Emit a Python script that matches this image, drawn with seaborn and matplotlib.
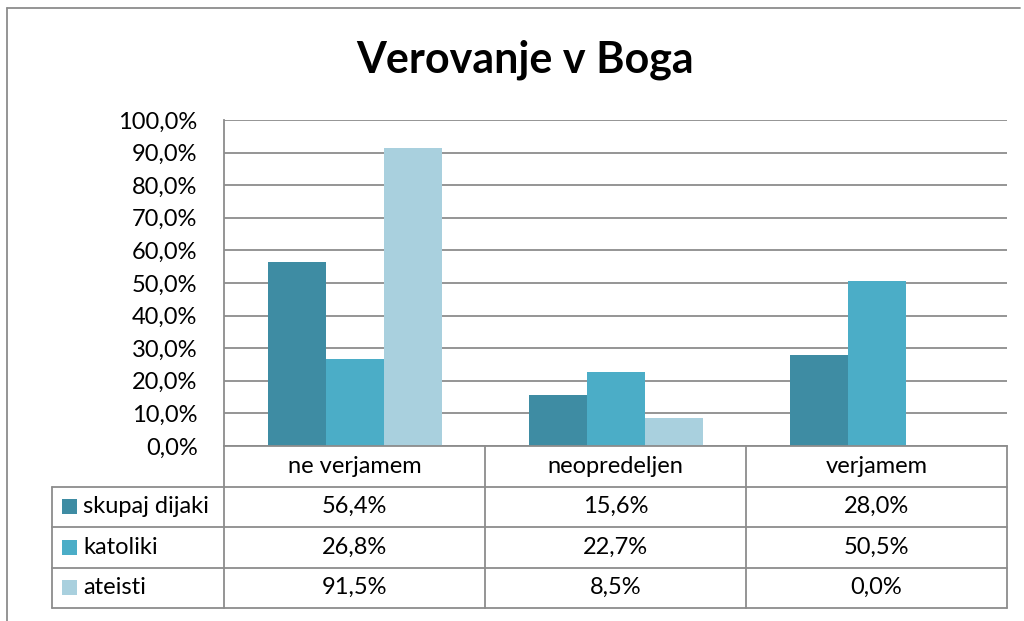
import pandas as pd
import matplotlib.pyplot as plt
import seaborn as sns
from matplotlib.lines import Line2D
from matplotlib.patches import Rectangle
from matplotlib.ticker import FuncFormatter

sns.set_theme(style="white")
plt.rcParams['font.family'] = ['Lato', 'DejaVu Sans']
plt.rcParams['text.color'] = 'black'
plt.rcParams['ytick.color'] = 'black'

# Data
categories = ['ne verjamem', 'neopredeljen', 'verjamem']
series = ['skupaj dijaki', 'katoliki', 'ateisti']
skupaj = [56.4, 15.6, 28.0]
katoliki = [26.8, 22.7, 50.5]
ateisti = [91.5, 8.5, 0.0]
colors = ['#3E8CA3', '#4BADC7', '#A9D0DE']
y_ticks = [0, 10, 20, 30, 40, 50, 60, 70, 80, 90, 100]

values = {'skupaj dijaki': skupaj, 'katoliki': katoliki, 'ateisti': ateisti}
df = pd.DataFrame([
    {'kategorija': c, 'skupina': s, 'delez': values[s][i]}
    for s in series for i, c in enumerate(categories)
])

W, H = 1024, 621
fig = plt.figure(figsize=(W / 100, H / 100), dpi=100)

def px(x):
    return x / W

def py(y):
    return 1 - y / H

grid_col = '#8C8C8C'
fs = 17

# Main plot area
ax = fig.add_axes([px(224), py(446), px(1007) - px(224), (446 - 120) / H])
sns.barplot(data=df, x='kategorija', y='delez', hue='skupina', palette=colors,
            width=2 / 3, gap=0, linewidth=0, saturation=1, ax=ax, legend=False)
ax.set_ylim(0, 100)
ax.set_xlim(-0.5, 2.5)
ax.set_yticks(y_ticks)
ax.yaxis.set_major_formatter(FuncFormatter(lambda v, p: f"{v:.1f}%".replace('.', ',')))
ax.yaxis.grid(True, color=grid_col, linewidth=1.3)
ax.set_axisbelow(True)
ax.set_xticks([])
ax.set_xlabel('')
ax.set_ylabel('')
ax.tick_params(axis='y', length=0, pad=19, labelsize=fs, labelcolor='black')
for side in ['top', 'right']:
    ax.spines[side].set_visible(False)
for side in ['left', 'bottom']:
    ax.spines[side].set_color(grid_col)
    ax.spines[side].set_linewidth(1.3)

# Data table
tax = fig.add_axes([px(52), py(608), px(1007) - px(52), (608 - 446) / H])
lw = (224 - 52) / 261
tax.set_xlim(-lw, 3)
tax.set_ylim(4, 0)
tax.axis('off')
for r in [1, 2, 3, 4]:
    tax.plot([-lw, 3], [r, r], color=grid_col, lw=1.3, clip_on=False)
tax.plot([-lw, -lw], [1, 4], color=grid_col, lw=1.3, clip_on=False)
for c in [0, 1, 2, 3]:
    tax.plot([c, c], [0, 4], color=grid_col, lw=1.3, clip_on=False)

for i, c in enumerate(categories):
    tax.text(i + 0.5, 0.5, c, ha='center', va='center', fontsize=fs, color='black')
for j, s in enumerate(series):
    tax.add_patch(Rectangle((-lw + 10 / 261, j + 1.5 - 0.19), 15 / 261, 0.38,
                            color=colors[j], lw=0))
    tax.text(-lw + 31 / 261, j + 1.5, s, ha='left', va='center', fontsize=fs,
             color='black')
    for i, v in enumerate(values[s]):
        tax.text(i + 0.5, j + 1.5, f"{v:.1f}%".replace('.', ','),
                 ha='center', va='center', fontsize=fs, color='black')

# Title
fig.text(px(525), py(60), 'Verovanje v Boga', ha='center', va='center',
         fontsize=31, fontweight='bold', color='black')

# Outer chart frame
frame_col = '#8C8C8C'
fig.add_artist(Line2D([px(7), px(1020)], [py(8), py(8)], color=frame_col, lw=1.3))
fig.add_artist(Line2D([px(7), px(7)], [py(8), py(621)], color=frame_col, lw=1.3))

fig.savefig('out.png', dpi=100)
